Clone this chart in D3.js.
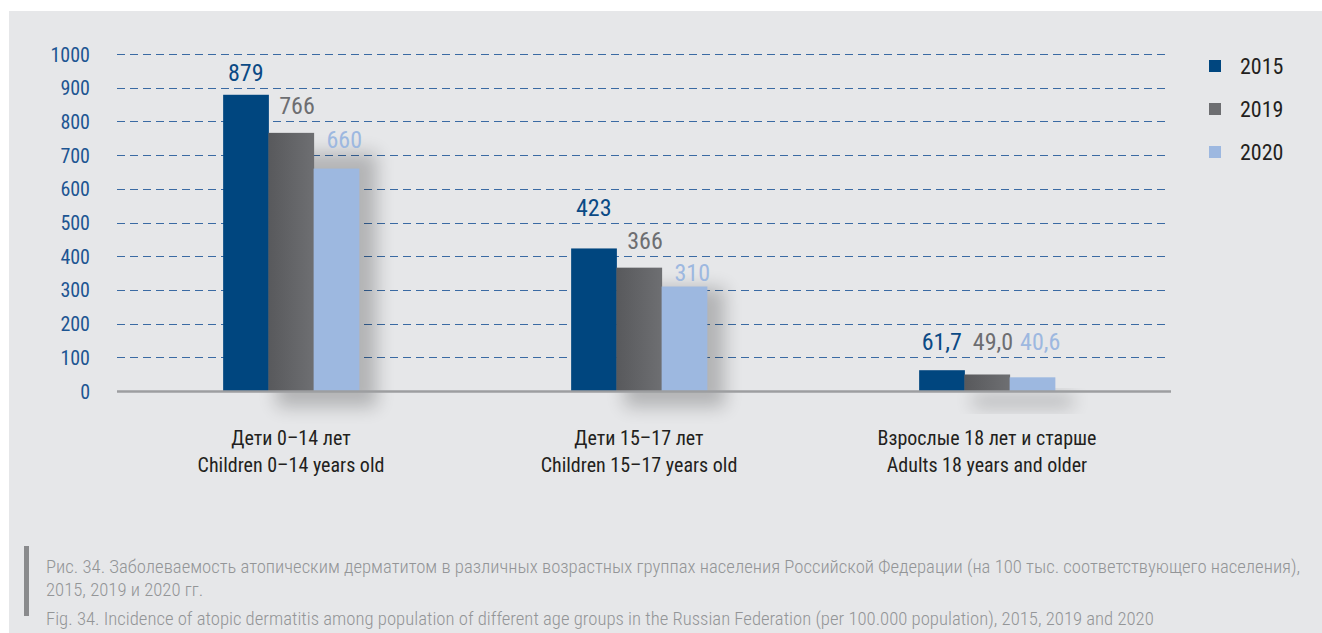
<!DOCTYPE html>
<html>
<head>
<meta charset="utf-8">
<script src="https://cdn.jsdelivr.net/npm/d3@7"></script>
<style>
    body { margin: 0; background: #fff; }
    svg { display: block; }
    text { font-family: "Liberation Sans Narrow", "Arial Narrow", "Roboto Condensed", sans-serif; }
</style>
</head>
<body>
<svg id="chart"></svg>
<script>
// Data
const categoriesRu = ['Дети 0–14 лет', 'Дети 15–17 лет', 'Взрослые 18 лет и старше'];
const categoriesEn = ['Children 0–14 years old', 'Children 15–17 years old', 'Adults 18 years and older'];
const years = ['2015', '2019', '2020'];
const values2015 = [879, 423, 61.7];
const values2019 = [766, 366, 49.0];
const values2020 = [660, 310, 40.6];
const yTicks = [0, 100, 200, 300, 400, 500, 600, 700, 800, 900, 1000];
const captionRu = ['Рис. 34. Заболеваемость атопическим дерматитом в различных возрастных группах населения Российской Федерации (на 100 тыс. соответствующего населения),',
    '2015, 2019 и 2020 гг.'];
const captionEn = 'Fig. 34. Incidence of atopic dermatitis among population of different age groups in the Russian Federation (per 100.000 population), 2015, 2019 and 2020';

const series = [values2015, values2019, values2020];
const colors = ['#00467f', 'url(#greyGrad)', '#9db8e0'];
const labelColors = ['#0b4a85', '#6d6e71', '#9db8e0'];
const labelShift = [0, 6, 8]; // labels of 2019/2020 sit a bit to the right

const width = 1322;
const height = 633;

const svg = d3.select('#chart')
    .attr('width', width)
    .attr('height', height);

// Gradient for the grey bars + blur for shadows
const defs = svg.append('defs');
const grad = defs.append('linearGradient').attr('id', 'greyGrad');
grad.append('stop').attr('offset', '0%').attr('stop-color', '#58595c');
grad.append('stop').attr('offset', '100%').attr('stop-color', '#6e6f72');
defs.append('filter').attr('id', 'blur')
    .attr('x', '-50%').attr('y', '-50%').attr('width', '200%').attr('height', '200%')
    .append('feGaussianBlur').attr('stdDeviation', 9);

// Grey panel
svg.append('rect')
    .attr('x', 9).attr('y', 11)
    .attr('width', width - 9).attr('height', height - 11)
    .attr('fill', '#e6e7e9');

// Scales
const x0 = d3.scaleBand()
    .domain(categoriesRu)
    .range([117, 1161])
    .padding(0);

const x1 = d3.scaleBand()
    .domain(years)
    .range([x0.bandwidth() * 0.305, x0.bandwidth() * 0.695]);

const y = d3.scaleLinear()
    .domain([0, 1000])
    .range([391, 54]);

// Gridlines
svg.append('g')
    .selectAll('line')
    .data(yTicks.filter(d => d > 0))
    .join('line')
        .attr('x1', 117)
        .attr('x2', 1168)
        .attr('y1', d => Math.round(y(d)) + 0.5)
        .attr('y2', d => Math.round(y(d)) + 0.5)
        .attr('stroke', '#3a6aa3')
        .attr('stroke-width', 1.2)
        .attr('stroke-dasharray', '8,5');

// Y axis labels
const yAxis = d3.axisLeft(y)
    .tickValues(yTicks)
    .tickFormat(d3.format('d'))
    .tickSize(0)
    .tickPadding(0);

svg.append('g')
    .attr('transform', 'translate(90,0)')
    .call(yAxis)
    .call(g => g.select('.domain').remove())
    .call(g => g.selectAll('text')
        .attr('fill', '#1d5592')
        .attr('font-size', 20)
        .attr('dy', '0.35em')
        .style('font-family', '"Liberation Sans Narrow", "Arial Narrow", "Roboto Condensed", sans-serif'));

// Bar groups
const groups = svg.append('g')
    .selectAll('g')
    .data(categoriesRu)
    .join('g')
        .attr('transform', d => `translate(${x0(d)},0)`);

// Soft shadow behind each group
groups.append('rect')
    .attr('x', (d, i) => x1('2019') + 8)
    .attr('y', (d, i) => y(series[1][i]) + 20)
    .attr('width', x1.bandwidth() * 2 + 10)
    .attr('height', (d, i) => y(0) - y(series[1][i]) - 4)
    .attr('fill', '#000')
    .attr('opacity', 0.22)
    .attr('filter', 'url(#blur)');

// Baseline
svg.append('line')
    .attr('x1', 117).attr('x2', 1171)
    .attr('y1', y(0) + 0.5).attr('y2', y(0) + 0.5)
    .attr('stroke', '#9d9ea0')
    .attr('stroke-width', 2.5);

const fmt = d3.formatLocale({decimal: ',', thousands: ' ', grouping: [3], currency: ['', '']});
const fmtInt = fmt.format('d');
const fmtDec = fmt.format('.1f');

// Label sits just above the next gridline over the bar,
// unless that would leave it floating far above the bar
function labelY(v) {
    const above = y(Math.ceil(v / 100) * 100) - 7;
    return (y(v) - above > 35) ? y(v) - 6 : above;
}

years.forEach((yr, s) => {
    groups.append('rect')
        .attr('x', x1(yr))
        .attr('y', (d, i) => y(series[s][i]))
        .attr('width', x1.bandwidth() + 0.5)
        .attr('height', (d, i) => y(0) - y(series[s][i]))
        .attr('fill', colors[s]);

    groups.append('text')
        .attr('x', x1(yr) + x1.bandwidth() / 2 + labelShift[s])
        .attr('y', (d, i) => labelY(series[s][i]))
        .attr('text-anchor', 'middle')
        .attr('font-size', 24)
        .attr('fill', labelColors[s])
        .text((d, i) => series[s][i] < 100 ? fmtDec(series[s][i]) : fmtInt(series[s][i]));
});

// Category labels
const catLabels = svg.append('g')
    .selectAll('text')
    .data(categoriesRu)
    .join('text')
        .attr('x', d => x0(d) + x0.bandwidth() / 2)
        .attr('y', 445)
        .attr('text-anchor', 'middle')
        .attr('font-size', 20)
        .attr('fill', '#231f20');

catLabels.append('tspan')
    .attr('x', d => x0(d) + x0.bandwidth() / 2)
    .text(d => d);
catLabels.append('tspan')
    .attr('x', d => x0(d) + x0.bandwidth() / 2)
    .attr('dy', 27)
    .text((d, i) => categoriesEn[i]);

// Legend
const legend = svg.append('g')
    .selectAll('g')
    .data(years)
    .join('g')
        .attr('transform', (d, i) => `translate(1209,${66 + i * 43})`);

legend.append('rect')
    .attr('x', 0).attr('y', -6)
    .attr('width', 12).attr('height', 12)
    .attr('fill', (d, i) => i === 1 ? '#6d6e71' : colors[i]);

legend.append('text')
    .attr('x', 31)
    .attr('dy', '0.36em')
    .attr('font-size', 22)
    .attr('fill', '#231f20')
    .text(d => d);

// Caption
svg.append('rect')
    .attr('x', 24).attr('y', 546)
    .attr('width', 5).attr('height', 70)
    .attr('fill', '#8a8b8d');

const caption = svg.append('g')
    .attr('fill', '#939597')
    .attr('font-size', 18.7)
    .attr('font-weight', 300);

caption.selectAll('text.ru')
    .data(captionRu)
    .join('text')
        .attr('class', 'ru')
        .attr('x', 46)
        .attr('y', (d, i) => 573 + i * 23)
        .text(d => d);

caption.append('text')
    .attr('x', 46)
    .attr('y', 625)
    .text(captionEn);
</script>
</body>
</html>
